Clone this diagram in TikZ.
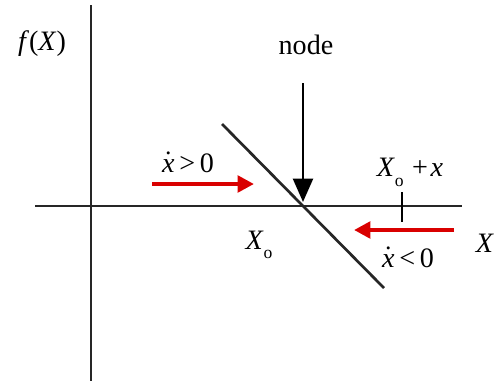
\documentclass[tikz,border=0pt]{standalone}
\usepackage{fontspec}
\setmainfont{Liberation Serif}
\usetikzlibrary{arrows.meta}
\newcommand{\xdot}{\ooalign{\textit{x}\cr\hidewidth\raisebox{0.05em}{˙}\hidewidth\cr}}
\begin{document}
\begin{tikzpicture}[x=0.03cm,y=-0.03cm,
  axis/.style={line width=2.3pt,black!85},
  redarrow/.style={line width=3.8pt,red!85!black,-{Triangle[length=14pt,width=14pt]}},
  lbl/.style={font=\fontsize{24}{26}\selectfont,inner sep=0pt}]
\useasboundingbox (0,0) rectangle (495,381);
% axes
\coordinate (vt) at (91,5);
\coordinate (vb) at (91,381);
\coordinate (hl) at (35,206);
\coordinate (hr) at (462,206);
\draw[axis] (vt) -- (vb);
\draw[axis] (hl) -- (hr);
% diagonal
\coordinate (d1) at (222,124);
\coordinate (d2) at (384,288);
\draw[axis] (d1) -- (d2);
% node arrow
\node[lbl] (nodelbl) at (306,45) {node};
\coordinate (na) at (303,83);
\coordinate (nb) at (303,202);
\draw[line width=2.3pt,-{Triangle[length=20pt,width=17pt]}] (na) -- (nb);
% red arrows
\coordinate (r1a) at (152,184);
\coordinate (r1b) at (254,184);
\draw[redarrow] (r1a) -- (r1b);
\coordinate (r2a) at (454,230);
\coordinate (r2b) at (354,230);
\draw[redarrow] (r2a) -- (r2b);
% tick
\coordinate (ta) at (402,192);
\coordinate (tb) at (402,222);
\draw[line width=2.3pt] (ta) -- (tb);
% labels
\node[lbl] (fx) at (42,44) {\textit{f}(\textit{X})};
\node[lbl] (xgt) at (188,163) {\xdot\,>\,0};
\node[lbl] (xo) at (259,245) {\textit{X}\raisebox{-0.3em}{\fontsize{15}{16}\selectfont o}};
\node[lbl] (xox) at (410,172) {\textit{X}\raisebox{-0.35em}{\fontsize{15}{16}\selectfont o}\hspace{0.3em}+\hspace{0.1em}\textit{x}};
\node[lbl] (xlt) at (408,258) {\xdot\,<\,0};
\node[lbl] (X) at (485,243) {\textit{X}};
\end{tikzpicture}
\end{document}
